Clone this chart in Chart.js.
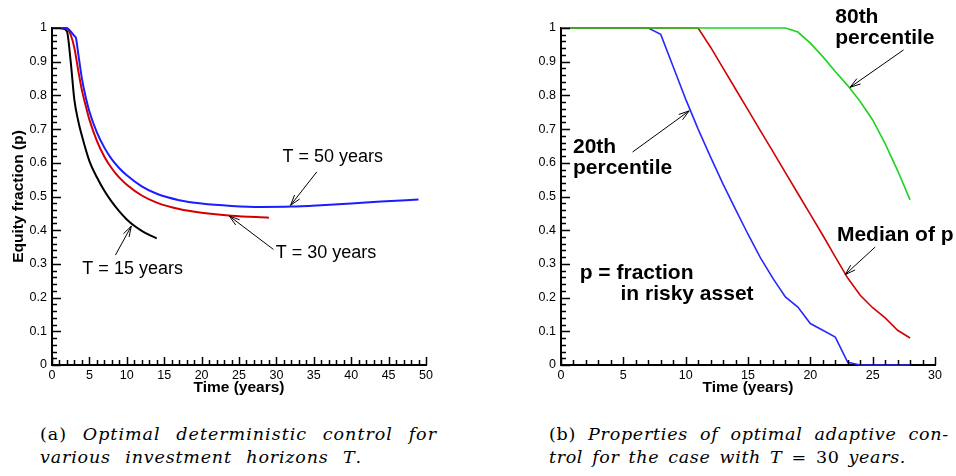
<!DOCTYPE html>
<html>
<head>
<meta charset="utf-8">
<script src="https://cdn.jsdelivr.net/npm/chart.js@4.4.1/dist/chart.umd.min.js"></script>
<style>
  body { margin: 0; background: #fff; width: 956px; height: 476px; position: relative; overflow: hidden; }
  canvas { position: absolute; top: 0; }
  #left { left: 0; }
  #right { left: 500px; }
  .cap { position: absolute; font-family: "DejaVu Serif", serif; font-size: 17.5px; line-height: 23px; color: #000; }
  .cap span { white-space: nowrap; display: inline-block; }
  .cap i { font-style: italic; }
</style>
</head>
<body>
<canvas id="left" width="440" height="400"></canvas>
<canvas id="right" width="456" height="400"></canvas>

<div class="cap" style="left:40px; top:423px;">
  <span data-w="397">(a) <i>Optimal deterministic control for</i></span><br>
  <span data-w="322"><i>various investment horizons T</i>.</span>
</div>
<div class="cap" style="left:549px; top:423px;">
  <span data-w="400">(b) <i>Properties of optimal adaptive con-</i></span><br>
  <span data-w="357"><i>trol for the case with T</i> = 30 <i>years.</i></span>
</div>

<script>
// ============================================
// Panel (a): deterministic control per horizon
// ============================================
const t15 = [0, 1, 1.5, 2, 2.5, 3, 3.5, 4, 5, 6, 7, 8, 9, 10, 11, 12, 13, 14];
const p15 = [1, 1, 0.998, 0.99, 0.9, 0.785, 0.725, 0.68, 0.605, 0.557, 0.517, 0.484, 0.456, 0.432, 0.413, 0.398, 0.386, 0.376];

const t30 = [0, 1, 2, 2.5, 3, 3.5, 4, 4.5, 5, 6, 7, 8, 9, 10, 12, 14, 17, 20, 24, 29];
const p30 = [1, 1, 0.998, 0.98, 0.94, 0.875, 0.815, 0.77, 0.728, 0.665, 0.618, 0.583, 0.556, 0.535, 0.503, 0.482, 0.463, 0.452, 0.443, 0.437];

const t50 = [0, 1, 2, 2.5, 3, 3.2, 3.5, 4, 4.5, 5, 6, 7, 8, 9, 10, 12, 14, 17, 20, 24, 28, 32, 36, 40, 44, 49];
const p50 = [1, 1, 1, 0.99, 0.976, 0.97, 0.925, 0.85, 0.795, 0.752, 0.69, 0.645, 0.61, 0.584, 0.563, 0.53, 0.508, 0.489, 0.479, 0.472, 0.469, 0.47, 0.474, 0.479, 0.485, 0.491];

// ============================================
// Panel (b): adaptive control, T = 30 years
// ============================================
const yearsB = [0, 1, 2, 3, 4, 5, 6, 7, 8, 9, 10, 11, 12, 13, 14, 15, 16, 17, 18, 19, 20, 21, 22, 23, 24, 25, 26, 27, 28];
const p20th = [1, 1, 1, 1, 1, 1, 1, 1, 0.981, 0.885, 0.789, 0.7, 0.617, 0.537, 0.462, 0.388, 0.318, 0.257, 0.202, 0.172, 0.123, 0.103, 0.083, 0.008, 0, 0, 0, 0, 0];
const pMedian = [1, 1, 1, 1, 1, 1, 1, 1, 1, 1, 1, 1, 0.943, 0.881, 0.819, 0.757, 0.695, 0.633, 0.571, 0.509, 0.447, 0.385, 0.321, 0.258, 0.207, 0.17, 0.14, 0.103, 0.08];
const p80th = [1, 1, 1, 1, 1, 1, 1, 1, 1, 1, 1, 1, 1, 1, 1, 1, 1, 1, 1, 0.988, 0.955, 0.915, 0.871, 0.829, 0.782, 0.727, 0.657, 0.577, 0.49];

const FONT = 'Liberation Sans';

function pairs(xs, ys) {
    return xs.map((x, i) => ({ x: x, y: ys[i] }));
}

// Stretch each caption line to the width it has in the figure
// (half of the slack between letters, half between words, then a trim pass)
document.querySelectorAll('.cap span[data-w]').forEach(el => {
    const target = +el.dataset.w;
    const text = el.textContent;
    const n = text.length;
    const gaps = (text.match(/ +/g) || []).length || 1;
    const slack = target - el.getBoundingClientRect().width;
    let ls = slack * 0.5 / n;
    el.style.letterSpacing = ls + 'px';
    el.style.wordSpacing = (slack * 0.5 / gaps) + 'px';
    for (let k = 0; k < 3; k++) {
        ls += (target - el.getBoundingClientRect().width) / n;
        el.style.letterSpacing = ls + 'px';
    }
});

// Tick marks drawn inward from the axes, major + minor
const inwardTicks = {
    id: 'inwardTicks',
    afterDraw(chart, args, opts) {
        const { ctx, scales: { x, y } } = chart;
        ctx.save();
        ctx.strokeStyle = '#000';
        ctx.lineWidth = 1.5;
        ctx.beginPath();
        for (let v = x.min; v <= x.max + 1e-9; v += opts.xMinor) {
            const major = Math.abs(v / opts.xMajor - Math.round(v / opts.xMajor)) < 1e-6;
            const px = Math.round(x.getPixelForValue(v)) + 0.5;
            ctx.moveTo(px, y.bottom);
            ctx.lineTo(px, y.bottom - (major ? 8 : 5));
        }
        for (let i = 0; i <= Math.round((y.max - y.min) / opts.yMinor); i++) {
            const major = i % 5 === 0;
            const py = Math.round(y.getPixelForValue(y.min + i * opts.yMinor)) + 0.5;
            ctx.moveTo(x.left, py);
            ctx.lineTo(x.left + (major ? 9 : 5), py);
        }
        ctx.stroke();
        ctx.restore();
    }
};

// Text labels and arrows, placed in data coordinates
const notes = {
    id: 'notes',
    afterDraw(chart, args, opts) {
        const { ctx, scales: { x, y } } = chart;
        ctx.save();
        ctx.fillStyle = '#000';
        ctx.font = opts.font;
        ctx.textAlign = 'left';
        ctx.textBaseline = 'middle';
        opts.labels.forEach(l => {
            const px = x.getPixelForValue(l.x);
            const py = y.getPixelForValue(l.y);
            l.lines.forEach((s, i) => ctx.fillText(s, px, py + i * opts.lineGap));
        });
        ctx.strokeStyle = '#000';
        ctx.lineWidth = 1;
        opts.arrows.forEach(a => {
            const x0 = x.getPixelForValue(a.from[0]), y0 = y.getPixelForValue(a.from[1]);
            const x1 = x.getPixelForValue(a.to[0]), y1 = y.getPixelForValue(a.to[1]);
            const ang = Math.atan2(y1 - y0, x1 - x0);
            ctx.beginPath();
            ctx.moveTo(x0, y0);
            ctx.lineTo(x1, y1);
            [-0.3, 0.3].forEach(d => {
                ctx.moveTo(x1, y1);
                ctx.lineTo(x1 - 11 * Math.cos(ang + d), y1 - 11 * Math.sin(ang + d));
            });
            ctx.stroke();
        });
        ctx.restore();
    }
};

function makeScales(xMax, yTitle, yWidth) {
    const tickFont = { family: FONT, size: 12.5 };
    const titleFont = { family: FONT, size: 15.5, weight: 'bold' };
    return {
        x: {
            type: 'linear', min: 0, max: xMax,
            ticks: { stepSize: 5, padding: 3, color: '#000', font: tickFont, maxRotation: 0 },
            grid: { display: false, drawTicks: false },
            border: { display: true, color: '#000', width: 2 },
            title: { display: true, text: 'Time (years)', color: '#000', font: titleFont, padding: { top: 0, bottom: 3 } },
            afterFit: s => { s.height = 35; }
        },
        y: {
            type: 'linear', min: 0, max: 1,
            ticks: {
                stepSize: 0.1, padding: 5, color: '#000', font: tickFont,
                callback: v => String(Number(v.toFixed(1)))
            },
            grid: { display: false, drawTicks: false },
            border: { display: true, color: '#000', width: 2 },
            title: { display: !!yTitle, text: yTitle || '', color: '#000', font: titleFont, padding: { top: 9, bottom: 0 } },
            afterFit: s => { s.width = yWidth; }
        }
    };
}

function line(data, color, width, smooth) {
    return {
        data: data,
        borderColor: color,
        borderWidth: width,
        pointRadius: 0,
        fill: false,
        clip: false,
        tension: 0,
        cubicInterpolationMode: smooth ? 'monotone' : 'default'
    };
}

new Chart(document.getElementById('left'), {
    type: 'line',
    data: {
        datasets: [
            line(pairs(t50, p50), '#1c1cff', 2, true),
            line(pairs(t30, p30), '#d40000', 2, true),
            line(pairs(t15, p15), '#000000', 2, true)
        ]
    },
    options: {
        responsive: false,
        animation: false,
        devicePixelRatio: 1,
        layout: { padding: { top: 28, right: 14, left: 0, bottom: 0 } },
        scales: makeScales(50, 'Equity fraction (p)', 52),
        plugins: {
            legend: { display: false },
            tooltip: { enabled: false },
            inwardTicks: { xMajor: 5, xMinor: 1, yMinor: 0.02 },
            notes: {
                font: '18px "Liberation Sans"',
                lineGap: 21,
                labels: [
                    { lines: ['T = 50 years'], x: 30.8, y: 0.618 },
                    { lines: ['T = 30 years'], x: 29.9, y: 0.331 },
                    { lines: ['T = 15 years'], x: 4.06, y: 0.285 }
                ],
                arrows: [
                    { from: [35.4, 0.573], to: [31.9, 0.474] },
                    { from: [29.6, 0.343], to: [23.7, 0.442] },
                    { from: [8.48, 0.326], to: [10.6, 0.412] }
                ]
            }
        }
    },
    plugins: [inwardTicks, notes]
});

new Chart(document.getElementById('right'), {
    type: 'line',
    data: {
        datasets: [
            line(pairs(yearsB, p80th), '#1ed21e', 1.6, false),
            line(pairs(yearsB, pMedian), '#d40000', 1.6, false),
            line(pairs(yearsB, p20th), '#2828ff', 1.6, false)
        ]
    },
    options: {
        responsive: false,
        animation: false,
        devicePixelRatio: 1,
        layout: { padding: { top: 28, right: 21, left: 0, bottom: 0 } },
        scales: makeScales(30, null, 61),
        plugins: {
            legend: { display: false },
            tooltip: { enabled: false },
            inwardTicks: { xMajor: 5, xMinor: 1, yMinor: 0.02 },
            notes: {
                font: 'bold 21px "Liberation Sans"',
                lineGap: 21,
                labels: [
                    { lines: ['80th', 'percentile'], x: 22.0, y: 1.033 },
                    { lines: ['20th', 'percentile'], x: 0.96, y: 0.647 },
                    { lines: ['Median of p'], x: 22.13, y: 0.385 },
                    { lines: ['p = fraction'], x: 1.5, y: 0.273 },
                    { lines: ['in risky asset'], x: 4.77, y: 0.21 }
                ],
                arrows: [
                    { from: [27.48, 0.935], to: [23.19, 0.824] },
                    { from: [5.74, 0.632], to: [10.28, 0.754] },
                    { from: [25.2, 0.35], to: [22.79, 0.268] }
                ]
            }
        }
    },
    plugins: [inwardTicks, notes]
});
</script>
</body>
</html>
